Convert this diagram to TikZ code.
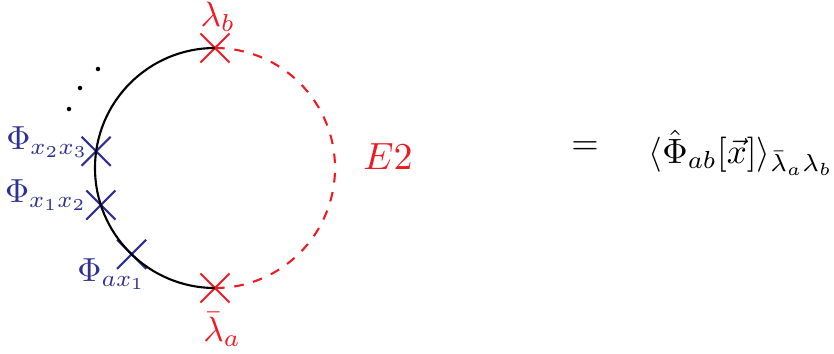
\documentclass[tikz,border=0pt]{standalone}
\usetikzlibrary{shapes.misc,positioning}
\definecolor{crossred}{RGB}{237,28,36}
\definecolor{crossblue}{RGB}{46,49,146}
\tikzset{
    bigfont/.style={scale=2.0},
    circline/.style={line width=1.2pt, black},
    dashline/.style={line width=1.2pt, crossred, dash pattern=on 5.5pt off 5.5pt},
    redcross/.style={draw=crossred, cross out, line width=1.2pt, minimum size=0.54cm, inner sep=0pt},
    bluecross/.style={draw=crossblue, cross out, line width=1.2pt, minimum size=0.54cm, inner sep=0pt},
    bluelab/.style={scale=1.9, text=crossblue, inner sep=0pt},
    redlab/.style={bigfont, text=crossred, inner sep=0pt}
}
\begin{document}
\begin{tikzpicture}
    \useasboundingbox (0,0) rectangle (16.68,7.06);

    % Centro del cerchio
    \coordinate (O) at (4.30,3.70);

    % Croci rosse
    \node[redcross] (lb) at ([shift={(90:2.4)}]O) {};
    \node[redcross] (la) at ([shift={(270:2.4)}]O) {};

    % Croci blu
    \foreach \ang/\nm in {172/p3, 198/p2, 226/p1} {
        \node[bluecross] (\nm) at ([shift={(\ang:2.4)}]O) {};
    }

    % Archi
    \draw[circline] (lb.center) arc[start angle=90, end angle=270, radius=2.4];
    \draw[dashline] (la.center) arc[start angle=-90, end angle=90, radius=2.4];

    % Puntini
    \foreach \x/\y in {1.96/5.68, 1.60/5.30, 1.38/4.88} {
        \fill (\x,\y) circle[radius=0.045];
    }

    % Etichette
    \node[redlab, anchor=south] (lblab) at ([shift={(0.06,0.02)}]lb.north) {$\lambda_b$};
    \node[redlab, anchor=north] (lalab) at ([shift={(0.14,-0.18)}]la.south) {$\bar\lambda_a$};
    \node[bluelab, anchor=base east] (p3lab) at ([shift={(-0.14,0.04)}]p3.center) {$\Phi_{x_2x_3}$};
    \node[bluelab, anchor=base east] (p2lab) at ([shift={(-0.26,0.06)}]p2.center) {$\Phi_{x_1x_2}$};
    \node[bluelab, anchor=base] (p1lab) at ([shift={(-0.40,-0.54)}]p1.center) {$\Phi_{ax_1}$};
    \node[redlab, scale=1.08] (elab) at (7.76,3.92) {$E2$};

    % Membro destro
    \node[bigfont, inner sep=0pt] (eq) at (11.70,4.10) {$=$};
    \node[bigfont, inner sep=0pt, anchor=base west] (rhs) at (12.96,3.80)
        {$\langle\hat\Phi_{ab}[\vec{x}]\rangle_{\bar\lambda_a\lambda_b}$};
\end{tikzpicture}
\end{document}
